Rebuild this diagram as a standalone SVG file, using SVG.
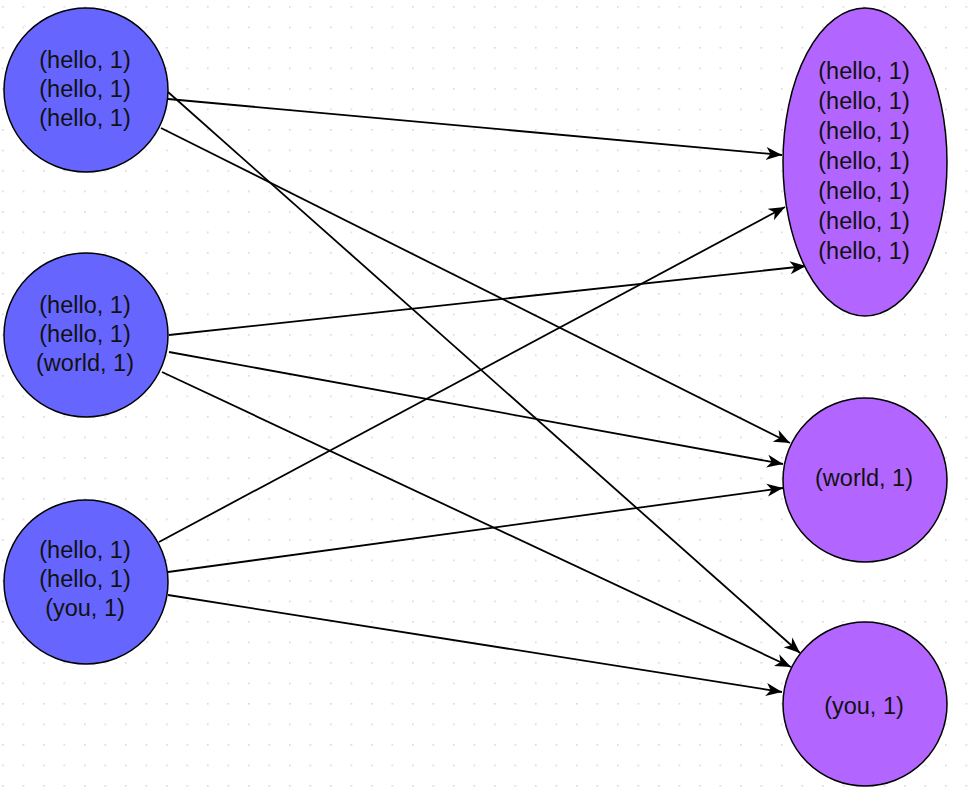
<svg xmlns="http://www.w3.org/2000/svg" width="971" height="795" viewBox="0 0 971 795">
  <defs>
    <pattern id="grid" x="2" y="6" width="20.5" height="20.5" patternUnits="userSpaceOnUse">
      <rect x="0" y="0" width="1.6" height="1.6" fill="#d8d8d8"/>
    </pattern>
    <marker id="arrow" markerUnits="userSpaceOnUse" markerWidth="18" markerHeight="14" refX="16" refY="7" orient="auto">
      <path d="M0,0.5 L16,7 L0,13.5 L4.5,7 Z" fill="#000"/>
    </marker>
    <style>
      .src { fill: #6666FF; stroke: #000; stroke-width: 1.5; }
      .dst { fill: #B266FF; stroke: #000; stroke-width: 1.5; }
      .lbl { font-family: "Liberation Sans", Arial, Helvetica, sans-serif; font-size: 23.5px; fill: #111; text-anchor: middle; }
      .edge { fill: none; stroke: #000; stroke-width: 1.8; marker-end: url(#arrow); }
    </style>
  </defs>
  <rect x="0" y="0" width="971" height="795" fill="#fff"/>
  <rect x="0" y="0" width="971" height="795" fill="url(#grid)"/>

  <g id="connectors">
    <line class="edge" x1="168" y1="99" x2="782" y2="155"/>
    <line class="edge" x1="168" y1="92" x2="800" y2="653"/>
    <line class="edge" x1="161" y1="128" x2="790" y2="443"/>
    <line class="edge" x1="169" y1="335" x2="806" y2="266"/>
    <line class="edge" x1="169" y1="352" x2="783" y2="464"/>
    <line class="edge" x1="162" y1="372" x2="791" y2="667"/>
    <line class="edge" x1="159" y1="542" x2="785" y2="207"/>
    <line class="edge" x1="168" y1="572" x2="783" y2="488"/>
    <line class="edge" x1="168" y1="595" x2="782" y2="692"/>
  </g>

  <g id="src1">
    <circle class="src" cx="86" cy="90" r="82"/>
    <text class="lbl" x="85" y="68">(hello, 1)</text>
    <text class="lbl" x="85" y="97">(hello, 1)</text>
    <text class="lbl" x="85" y="126">(hello, 1)</text>
  </g>
  <g id="src2">
    <circle class="src" cx="86" cy="335" r="82"/>
    <text class="lbl" x="85" y="313">(hello, 1)</text>
    <text class="lbl" x="85" y="342">(hello, 1)</text>
    <text class="lbl" x="85" y="371">(world, 1)</text>
  </g>
  <g id="src3">
    <circle class="src" cx="86" cy="582" r="82"/>
    <text class="lbl" x="85" y="558">(hello, 1)</text>
    <text class="lbl" x="85" y="587">(hello, 1)</text>
    <text class="lbl" x="85" y="616">(you, 1)</text>
  </g>

  <g id="dst-hello">
    <ellipse class="dst" cx="865" cy="162" rx="82" ry="154"/>
    <text class="lbl" x="864" y="79">(hello, 1)</text>
    <text class="lbl" x="864" y="109">(hello, 1)</text>
    <text class="lbl" x="864" y="139">(hello, 1)</text>
    <text class="lbl" x="864" y="169">(hello, 1)</text>
    <text class="lbl" x="864" y="199">(hello, 1)</text>
    <text class="lbl" x="864" y="229">(hello, 1)</text>
    <text class="lbl" x="864" y="259">(hello, 1)</text>
  </g>
  <g id="dst-world">
    <circle class="dst" cx="865" cy="480" r="82"/>
    <text class="lbl" x="864" y="486">(world, 1)</text>
  </g>
  <g id="dst-you">
    <circle class="dst" cx="865" cy="704" r="82"/>
    <text class="lbl" x="864" y="714">(you, 1)</text>
  </g>
</svg>
